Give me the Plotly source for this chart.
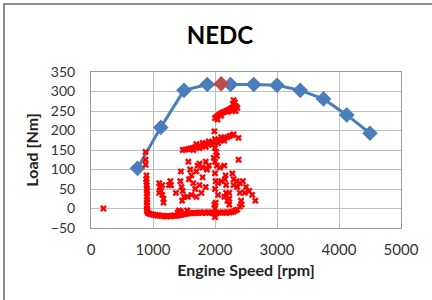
import plotly.graph_objects as go

# Full-load curve
full_rpm = [750, 1125, 1500, 1875, 2250, 2625, 3000, 3375, 3750, 4125, 4500]
full_load = [103, 208, 303, 318, 318, 318, 316, 303, 281, 240, 193]

# Max torque point
max_rpm = [2100]
max_load = [320]

# NEDC operating points
nedc_rpm = [
    200,
    # vertical at ~900
    880, 880, 880, 895, 890, 895, 900, 900, 905, 900, 905, 900, 905, 900, 905, 900, 910,
    # bottom band
    920, 950, 980, 1010, 1040, 1070, 1100, 1130, 1160, 1190, 1220, 1250, 1280, 1310, 1340, 1370,
    1400, 1430, 1460, 1490, 1520, 1550, 1580, 1610, 1640, 1670, 1700, 1730, 1760, 1790, 1820,
    1850, 1880, 1910, 1940, 1970, 2000, 2000, 2030, 2060, 2090, 2120, 2150, 2180, 2210, 2240,
    2270, 2300, 2330, 2360, 1400, 1450, 1550, 1420,
    # lower diagonal band
    1480, 1520, 1560, 1600, 1640, 1680, 1720, 1760, 1800, 1840, 1880, 1920, 1960, 2000, 2040,
    2080, 2120, 2160, 2200, 2240, 2280, 2300, 1700, 1800, 1900, 2000, 2100, 1650, 1750, 1850,
    1950, 2050, 2150, 2380, 1990, 2000, 2020, 2030,
    # upper band
    2000, 2030, 2060, 2090, 2120, 2150, 2180, 2210, 2240, 2270, 2290, 2300, 2320, 2340, 2360,
    2330, 2040, 2100, 2200, 2280,
    # middle scattered
    1100, 1110, 1130, 1150, 1170, 1170, 1100, 1150, 1280, 1290, 1260, 1370,
    1450, 1440, 1460, 1480, 1500, 1470,
    1570, 1600, 1620, 1580, 1650, 1700, 1720, 1680, 1560, 1620, 1700, 1750, 1800, 1780, 1850,
    1870, 1900, 1850, 1800, 1750,
    2000, 1980, 2030, 2080, 2150, 2000, 2010, 2050, 2100, 2160, 2170, 2180, 2000, 2050, 1990,
    2000, 2010,
    2280, 2300, 2350, 2400, 2450, 2360, 2300, 2400, 2420, 2430, 2400, 2380,
    2500, 2550, 2600, 2650, 2480, 2180, 2200, 2150, 2230, 2230, 2230,
]
nedc_load = [
    0,
    145, 125, 112, 85, 75, 68, 60, 52, 45, 38, 30, 22, 15, 8, 0, -5, -8,
    -12, -14, -15, -16, -17, -18, -18, -19, -19, -20, -20, -19, -20, -19, -18, -19,
    -18, -17, -16, -15, -14, -13, -12, -12, -11, -11, -12, -11, -10, -11, -10,
    -11, -10, -10, -11, -12, -15, -22, -11, -10, -11, -10, -10, -11, -10, -10,
    -9, -8, -5, -3, -10, -8, -5, -5,
    150, 151, 152, 154, 155, 157, 158, 160, 162, 163, 165, 167, 169, 171, 173,
    175, 178, 181, 183, 186, 188, 190, 165, 168, 172, 178, 183, 150, 155, 158,
    163, 168, 174, 181, 198, 155, 145, 135,
    232, 236, 240, 243, 246, 248, 250, 252, 255, 258, 268, 278, 272, 262, 258,
    250, 228, 238, 248, 250,
    65, 55, 45, 35, 25, 15, 40, 60, 70, 60, 60, 40,
    95, 70, 55, 45, 30, 20,
    120, 100, 85, 75, 65, 95, 110, 50, 30, 35, 30, 60, 80, 40, 55,
    100, 110, 120, 105, 115,
    120, 130, 110, 105, 110, 90, 70, 65, 70, 75, 85, 60, 50, 35, 10,
    0, 15,
    90, 75, 70, 65, 70, 55, 60, 40, 20, 10, 5, 125,
    55, 45, 35, 20, 40, 40, 20, 30, 40, 25, 10,
]

x_ticks = [0, 1000, 2000, 3000, 4000, 5000]
y_ticks = [-50, 0, 50, 100, 150, 200, 250, 300, 350]

FONT = "Lato"

fig = go.Figure()
fig.add_trace(go.Scatter(
    x=full_rpm, y=full_load, mode="lines+markers",
    line=dict(color="#4a7ebb", width=3),
    marker=dict(symbol="diamond", size=12, color="#4a7ebb"),
    showlegend=False, hoverinfo="skip"))
fig.add_trace(go.Scatter(
    x=max_rpm, y=max_load, mode="markers",
    marker=dict(symbol="diamond", size=12, color="#be4b48"),
    showlegend=False))
fig.add_trace(go.Scatter(
    x=nedc_rpm, y=nedc_load, mode="markers",
    marker=dict(symbol="x", size=6, color="#ff0000", line=dict(width=0)),
    showlegend=False))

fig.update_layout(
    width=432, height=300,
    margin=dict(l=91, r=31, t=72, b=72),
    paper_bgcolor="white", plot_bgcolor="white",
    font=dict(family=FONT, size=14, color="#222"),
    title=dict(text="<b>NEDC</b>", x=0.509, xanchor="center", y=0.88, yanchor="middle",
               font=dict(family=FONT, size=24, color="black")),
    xaxis=dict(range=[0, 5000], tickvals=x_ticks, showgrid=True, gridcolor="#bfbfbf",
               gridwidth=1, zeroline=False, showline=True, linecolor="#9a9a9a", mirror=True,
               ticks="outside", ticklen=8, tickcolor="rgba(0,0,0,0)", automargin=False,
               tickfont=dict(size=15, color="#333"),
               title=dict(text="<b>Engine Speed [rpm]</b>", font=dict(size=16, color="#222"),
                          standoff=7)),
    yaxis=dict(range=[-50, 350], tickvals=y_ticks, showgrid=True, gridcolor="#bfbfbf",
               gridwidth=1, zeroline=False, showline=True, linecolor="#9a9a9a", mirror=True,
               ticks="outside", ticklen=12, tickcolor="rgba(0,0,0,0)", automargin=False,
               tickfont=dict(size=14, color="#333"),
               title=dict(text="<b>Load [Nm]</b>", font=dict(size=16, color="#222"),
                          standoff=8)),
    shapes=[dict(type="rect", xref="paper", yref="paper",
                 x0=(4 - 91) / 310, x1=1.2, y0=-0.5, y1=(228 - 4) / 156,
                 line=dict(color="#8c8c8c", width=2), fillcolor="rgba(0,0,0,0)",
                 layer="below")],
)

fig.write_html("out.html", config={"displayModeBar": False},
               post_script="document.body.style.margin='0';")
